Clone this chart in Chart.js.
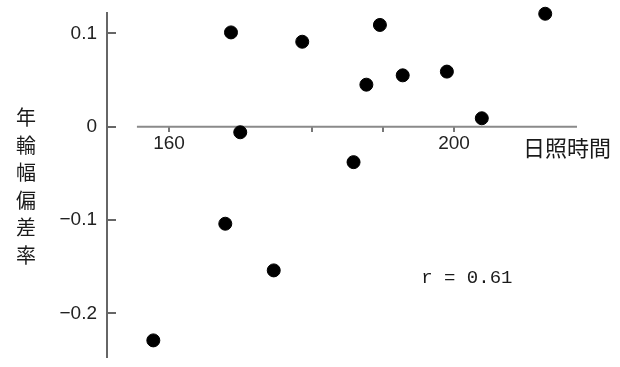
<!DOCTYPE html>
<html>
<head>
<meta charset="utf-8">
<script src="https://cdn.jsdelivr.net/npm/chart.js@4/dist/chart.umd.min.js"></script>
<style>
  body { margin: 0; background: #fff; }
  #wrap { width: 620px; height: 367px; }
</style>
</head>
<body>
<div id="wrap"><canvas id="scatter-sunshine" width="620" height="367"></canvas></div>
<script>
// sunshine hours vs. tree ring width deviation
var sunshineHours = [157.8, 167.9, 174.7, 168.7, 170.0, 178.7, 185.9, 187.7, 189.6, 192.8, 199.0, 203.9, 212.8];
var ringDeviation = [-0.229, -0.104, -0.154, 0.101, -0.006, 0.091, -0.038, 0.045, 0.109, 0.055, 0.059, 0.009, 0.121];

var xTickValues = [160, 170, 180, 190, 200];
var xTickLabels = ['160', '', '', '', '200'];
var yTickValues = [-0.2, -0.1, 0, 0.1];
var yTickLabels = ['\u22120.2', '\u22120.1', '0', '0.1'];

var xTitle = '日照時間';
var yTitle = '年輪幅偏差率';
var corrText = 'r = 0.61';

var xRange = [151.3, 217.26];
var yRange = [-0.2468, 0.1218];
var xAxisStart = 155.5;   // the x axis line does not reach the y axis

var points = [];
for (var i = 0; i < sunshineHours.length; i++) {
    points.push({ x: sunshineHours[i], y: ringDeviation[i] });
}

var textPlugin = {
    id: 'textPlugin',
    beforeDatasetsDraw: function(chart) {
        var ctx = chart.ctx;
        var area = chart.chartArea;
        var x = chart.scales.x;
        var y = chart.scales.y;
        var y0 = y.getPixelForValue(0);
        ctx.save();
        // x axis line at y = 0
        ctx.strokeStyle = '#8a8a8a';
        ctx.lineWidth = 2;
        ctx.beginPath();
        ctx.moveTo(x.getPixelForValue(xAxisStart), y0);
        ctx.lineTo(area.right, y0);
        ctx.stroke();

        ctx.fillStyle = '#1a1a1a';
        ctx.textBaseline = 'middle';
        // x title at the end of the axis
        ctx.font = '22px "Noto Sans CJK JP"';
        ctx.textAlign = 'left';
        ctx.fillText(xTitle, area.right - 54, y0 + 21);
        // y title, written top to bottom
        ctx.font = '20px "Noto Sans CJK JP"';
        ctx.textAlign = 'center';
        var chars = yTitle.split('');
        for (var c = 0; c < chars.length; c++) {
            ctx.fillText(chars[c], 26, y0 - 9 + c * 27.5);
        }
        // correlation
        ctx.font = '19px "Liberation Mono"';
        ctx.textAlign = 'left';
        ctx.fillText(corrText, x.getPixelForValue(195.4), y.getPixelForValue(-0.162));
        ctx.restore();
    }
};

var chart = new Chart(document.getElementById('scatter-sunshine'), {
    type: 'scatter',
    data: {
        datasets: [{
            label: 'ring',
            data: points,
            backgroundColor: '#000',
            borderColor: '#000',
            pointRadius: 6.5,
            pointHoverRadius: 6.5,
            clip: false
        }]
    },
    options: {
        responsive: false,
        animation: false,
        layout: { padding: { left: 0, right: 43, top: 13, bottom: 10 } },
        plugins: {
            legend: { display: false },
            tooltip: { enabled: false }
        },
        scales: {
            x: {
                type: 'linear',
                min: xRange[0],
                max: xRange[1],
                position: { y: 0 },
                afterBuildTicks: function(scale) {
                    scale.ticks = xTickValues.map(function(v) { return { value: v }; });
                },
                afterFit: function(scale) {
                    scale.height = 0;
                    scale.paddingLeft = 0;
                    scale.paddingRight = 0;
                },
                border: { display: false },
                grid: { drawOnChartArea: false, drawTicks: true, tickLength: 5, color: '#777', lineWidth: 2 },
                ticks: {
                    padding: 1,
                    color: '#222',
                    font: { family: 'Liberation Sans', size: 19 },
                    callback: function(value) {
                        var k = xTickValues.indexOf(value);
                        return k >= 0 ? xTickLabels[k] : '';
                    }
                }
            },
            y: {
                type: 'linear',
                min: yRange[0],
                max: yRange[1],
                position: 'left',
                afterBuildTicks: function(scale) {
                    scale.ticks = yTickValues.map(function(v) { return { value: v }; });
                },
                afterFit: function(scale) {
                    scale.width = 107;
                    scale.paddingTop = 0;
                    scale.paddingBottom = 0;
                },
                border: { display: true, color: '#666', width: 2 },
                grid: { drawOnChartArea: false, drawTicks: true, tickLength: -9, color: '#666', lineWidth: 2 },
                ticks: {
                    padding: 19,
                    color: '#222',
                    font: { family: 'Liberation Sans', size: 19 },
                    callback: function(value) {
                        var k = yTickValues.indexOf(value);
                        return k >= 0 ? yTickLabels[k] : '';
                    }
                }
            }
        }
    },
    plugins: [textPlugin]
});
</script>
</body>
</html>
